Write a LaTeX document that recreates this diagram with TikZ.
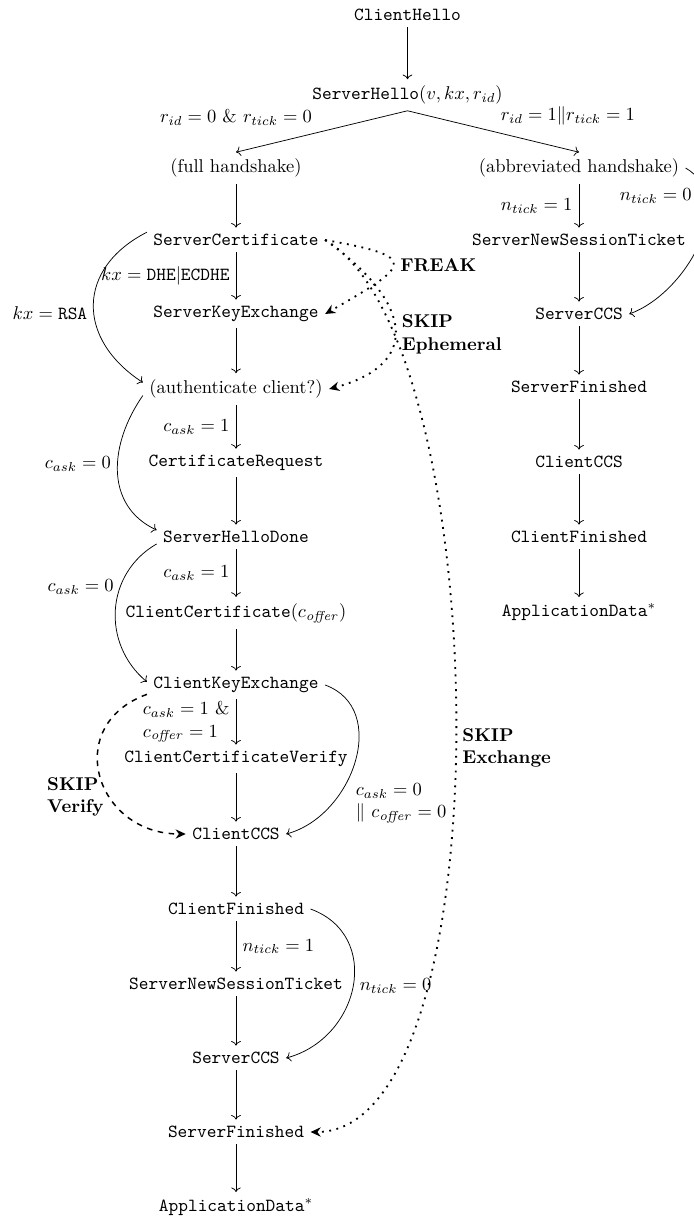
\documentclass[tikz,border=0pt]{standalone}
\usetikzlibrary{arrows.meta}
\begin{document}
\begin{tikzpicture}[x=0.5405pt, y=0.5405pt,
  msg/.style={inner sep=3.33pt},
  flow/.style={->},
  attack/.style={line width=1pt, dash pattern=on 1pt off 3pt,
    -{Stealth[length=5.5pt, width=5pt]}},
  skipverify/.style={thick, dashed, -{Stealth[length=5.5pt, width=5pt]}},
  attacklabel/.style={font=\bfseries, align=left},
]
\useasboundingbox (0,0) rectangle (694,-1219);

% top of the handshake
\node[msg] (ch) at (407.5,-15) {\texttt{ClientHello}};
\node[msg] (sh) at (407.5,-95) {\texttt{ServerHello}$(v, kx, r_{id})$};
\node[msg] (full) at (236,-168) {(full handshake)};
\node[msg] (abbr) at (579,-168) {(abbreviated handshake)};

% full handshake column
\node[msg] (sc)    at (236,-240)  {\texttt{ServerCertificate}};
\node[msg] (ske)   at (236,-314)  {\texttt{ServerKeyExchange}};
\node[msg] (auth)  at (236,-389)  {(authenticate client?)};
\node[msg] (creq)  at (236,-463)  {\texttt{CertificateRequest}};
\node[msg] (shd)   at (236,-537)  {\texttt{ServerHelloDone}};
\node[msg] (ccert) at (236,-613)  {\texttt{ClientCertificate}$(c_{\mathit{offer}})$};
\node[msg] (cke)   at (236,-685)  {\texttt{ClientKeyExchange}};
\node[msg] (ccv)   at (236,-759)  {\texttt{ClientCertificateVerify}};
\node[msg] (cccs)  at (236,-834)  {\texttt{ClientCCS}};
\node[msg] (cfin)  at (236,-909)  {\texttt{ClientFinished}};
\node[msg] (snst)  at (236,-984)  {\texttt{ServerNewSessionTicket}};
\node[msg] (sccs)  at (236,-1058) {\texttt{ServerCCS}};
\node[msg] (sfin)  at (236,-1132) {\texttt{ServerFinished}};
\node[msg] (app)   at (236,-1207) {\texttt{ApplicationData}$^*$};

% abbreviated handshake column
\node[msg] (rsnst) at (579,-240) {\texttt{ServerNewSessionTicket}};
\node[msg] (rsccs) at (579,-314) {\texttt{ServerCCS}};
\node[msg] (rsfin) at (579,-387) {\texttt{ServerFinished}};
\node[msg] (rcccs) at (579,-462) {\texttt{ClientCCS}};
\node[msg] (rcfin) at (579,-537) {\texttt{ClientFinished}};
\node[msg] (rapp)  at (579,-612) {\texttt{ApplicationData}$^*$};

% branching after ServerHello
\draw[flow] (ch) -- (sh);
\draw[flow] (sh.south) -- node[pos=1, above=11pt] {$r_{id} = 0$ \& $r_{tick} = 0$} (full.north);
\draw[flow] (sh.south) -- node[pos=1, above=11pt, xshift=-6pt] {$r_{id} = 1 \| r_{tick} = 1$} (abbr.north);

% full handshake transitions
\draw[flow] (full) -- (sc);
\draw[flow] (sc) -- node[left] {$kx = \texttt{DHE}|\texttt{ECDHE}$} (ske);
\draw[flow] (ske) -- (auth);
\draw[flow] (auth) -- node[left] {$c_{ask} = 1$} (creq);
\draw[flow] (creq) -- (shd);
\draw[flow] (shd) -- node[left] {$c_{ask} = 1$} (ccert);
\draw[flow] (ccert) -- (cke);
\draw[flow] (cke) -- node[left, align=left] {$c_{ask} = 1$ \&\\$c_{\mathit{offer}} = 1$} (ccv);
\draw[flow] (ccv) -- (cccs);
\draw[flow] (cccs) -- (cfin);
\draw[flow] (cfin) -- node[right] {$n_{tick} = 1$} (snst);
\draw[flow] (snst) -- (sccs);
\draw[flow] (sccs) -- (sfin);
\draw[flow] (sfin) -- (app);

% optional steps of the full handshake
\draw[flow] (sc.175) to[out=207, in=147, looseness=1.35]
  node[left, pos=0.55] {$kx = \texttt{RSA}$} (auth.176);
\draw[flow] (auth.184) to[out=235, in=155, looseness=1.1]
  node[left, pos=0.45] {$c_{ask} = 0$} (shd.175);
\draw[flow] (shd.185) to[out=210, in=140, looseness=1.1]
  node[left, pos=0.35] {$c_{ask} = 0$} (cke.178);
\draw[flow] (cke.east) to[out=-20, in=15, looseness=1.15]
  node[below right, pos=0.58, align=left] {$c_{ask} = 0$\\$\|$ $c_{\mathit{offer}} = 0$} (cccs.east);
\draw[flow] (cfin.east) to[out=-20, in=15, looseness=1.3]
  node[right] {$n_{tick} = 0$} (sccs.east);

% abbreviated handshake transitions
\draw[flow] (abbr) -- node[left] {$n_{tick} = 1$} (rsnst);
\draw[flow] (rsnst) -- (rsccs);
\draw[flow] (rsccs) -- (rsfin);
\draw[flow] (rsfin) -- (rcccs);
\draw[flow] (rcccs) -- (rcfin);
\draw[flow] (rcfin) -- (rapp);
\draw[flow] (abbr.east) to[out=-30, in=20]
  node[left, pos=0.22, xshift=-4.5pt] {$n_{tick} = 0$} (rsccs.east);

% attack transitions
\draw[attack] (sc.east) to[out=-10, in=30, looseness=3.4]
  node[right, attacklabel] {FREAK} (ske.east);
\draw[attack] (sc.east) to[out=-35, in=15, looseness=1.73]
  node[right, attacklabel, pos=0.55] {SKIP\\Ephemeral} (auth.east);
\draw[attack] (sc.east) to[out=-30, in=0, looseness=0.564]
  node[right, attacklabel, pos=0.52] {SKIP\\Exchange} (sfin.east);
\draw[skipverify] (cke.186) to[out=200, in=180, looseness=1.6]
  node[left, attacklabel, pos=0.62] {SKIP\\Verify} (cccs.west);
\end{tikzpicture}
\end{document}
